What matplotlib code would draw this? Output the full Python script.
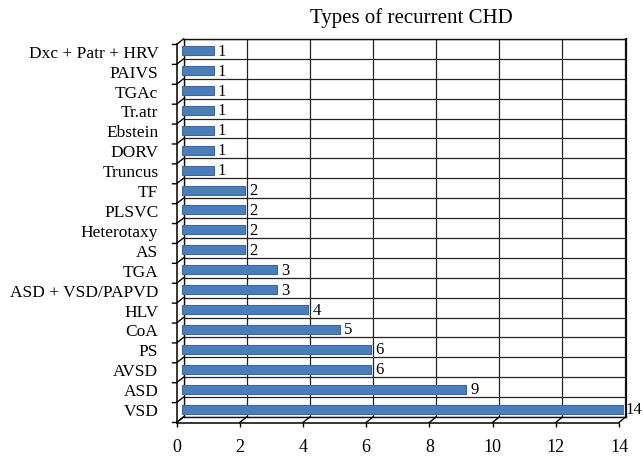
import matplotlib.pyplot as plt
from matplotlib.lines import Line2D

categories = ["VSD", "ASD", "AVSD", "PS", "CoA", "HLV", "ASD + VSD/PAPVD", "TGA", "AS",
              "Heterotaxy", "PLSVC", "TF", "Truncus", "DORV", "Ebstein", "Tr.atr", "TGAc",
              "PAIVS", "Dxc + Patr + HRV"]
counts = [14, 9, 6, 6, 5, 4, 3, 3, 2, 2, 2, 2, 1, 1, 1, 1, 1, 1, 1]
xticks = [0, 2, 4, 6, 8, 10, 12, 14]
title = "Types of recurrent CHD"

plt.rcParams['font.family'] = ['Liberation Serif', 'DejaVu Serif']

W, H = 643, 460
n = len(categories)


def box(l, t, r, b):
    return [l / W, 1 - b / H, (r - l) / W, (b - t) / H]


fig = plt.figure(figsize=(W / 100, H / 100), dpi=100)

# back wall with grid
back = fig.add_axes(box(183.5, 40, 625.5, 418))
back.set_xlim(0, 14)
back.set_ylim(-0.5, n - 0.5)
for v in xticks:
    back.axvline(v, color='#222222', lw=0.9)
for k in range(n + 1):
    back.axhline(k - 0.5, color='#222222', lw=0.9)
back.set_xticks([])
back.set_yticks([])
for s in back.spines.values():
    s.set_color('#111111')
    s.set_linewidth(1.0)
back.spines['right'].set_linewidth(1.6)

# front frame (axis lines + tick labels)
front = fig.add_axes(box(176.5, 45.5, 619, 423.5))
front.patch.set_alpha(0)
front.set_xlim(0, 14)
front.set_ylim(-0.5, n - 0.5)
front.spines['top'].set_visible(False)
front.spines['right'].set_visible(False)
front.spines['left'].set_linewidth(1.1)
front.spines['bottom'].set_linewidth(1.1)
front.set_xticks(xticks)
front.set_xticklabels([str(v) for v in xticks], fontsize=13)
front.tick_params(axis='x', length=3, width=1, pad=8)
front.set_yticks([])

# bars
ax = fig.add_axes(box(182, 41.75, 624, 420))
ax.patch.set_alpha(0)
ax.set_xlim(0, 14)
ax.set_ylim(-0.5, n - 0.5)
ypos = list(range(n))
ax.barh(ypos, counts, height=0.45, color='#4a7ebb', edgecolor='#3a67a0', linewidth=0.8)
for y, c in zip(ypos, counts):
    off = 1 if c == max(counts) else 3
    ax.annotate(str(c), (c, y), xytext=(off, 0), textcoords='offset points',
                va='center', ha='left', fontsize=12, annotation_clip=False)
ax.set_yticks(ypos)
ax.set_yticklabels(categories, fontsize=12.5)
ax.tick_params(axis='y', length=0, pad=17)
ax.set_xticks([])
for s in ax.spines.values():
    s.set_visible(False)

# depth lines (pixel overlay)
ov = fig.add_axes([0, 0, 1, 1])
ov.set_xlim(0, W)
ov.set_ylim(H, 0)
ov.axis('off')
ov.patch.set_alpha(0)
step_y = (418 - 40) / n
for k in range(n + 1):
    yf = 423.5 - k * step_y
    yb = 418 - k * step_y
    ov.add_line(Line2D([172.5, 176.5, 183.5], [yf, yf, yb], color='black', lw=1))
step_x = (619 - 176.5) / 14
for v in xticks:
    xf = 176.5 + v * step_x
    xb = 183.5 + v * (625.5 - 183.5) / 14
    ov.add_line(Line2D([xf, xb], [423.5, 418], color='black', lw=1))

fig.text(411 / W, 1 - 18 / H, title, ha='center', va='center', fontsize=15)

fig.savefig('out.png', dpi=100)
